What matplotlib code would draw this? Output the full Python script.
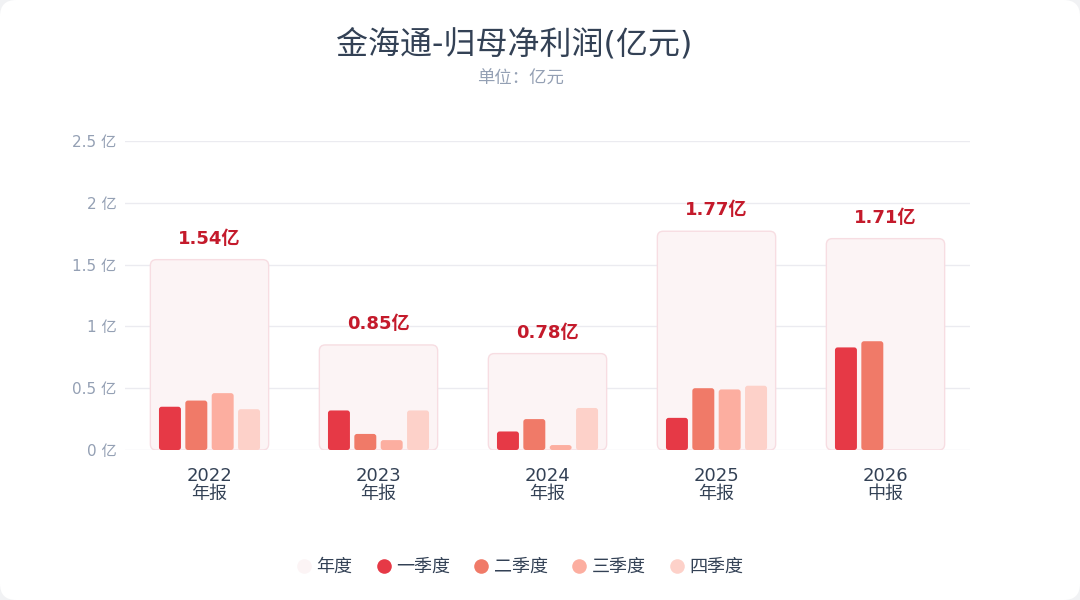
import numpy as np
import matplotlib
matplotlib.use('agg')
import matplotlib.pyplot as plt
from matplotlib.patches import FancyBboxPatch
from matplotlib.lines import Line2D

plt.rcParams['font.family'] = ['DejaVu Sans', 'Noto Sans CJK SC']

# data (亿元)
years = ['2022', '2023', '2024', '2025', '2026']
periods = ['年报', '年报', '年报', '年报', '中报']
annual = [1.54, 0.85, 0.78, 1.77, 1.71]
q1 = [0.35, 0.32, 0.15, 0.26, 0.83]
q2 = [0.40, 0.13, 0.25, 0.50, 0.88]
q3 = [0.46, 0.08, 0.04, 0.49, None]
q4 = [0.33, 0.32, 0.34, 0.52, None]
yticks = [0, 0.5, 1, 1.5, 2, 2.5]

c_year = '#fcf4f5'
c_year_edge = '#f7dde2'
q_colors = ['#e63946', '#f07a68', '#fcaea0', '#fdd1c9']
q_names = ['一季度', '二季度', '三季度', '四季度']

fig = plt.figure(figsize=(10.8, 6), dpi=100)
fig.patch.set_facecolor('#f1f2f4')
card = FancyBboxPatch((0, 0), 1, 1, boxstyle='round,pad=0,rounding_size=0.015',
                      mutation_aspect=1080 / 600, transform=fig.transFigure,
                      facecolor='white', edgecolor='none', zorder=-10)
fig.patches.append(card)

ax = fig.add_axes([125 / 1080, 150 / 600, 845 / 1080, 309 / 600])
ax.set_facecolor('none')
ax.set_xlim(-0.5, 4.5)
ax.set_ylim(0, 2.5)

# data units per pixel ratio, to keep rounded corners round
aspect = (2.5 / 309) / (5 / 845)


def rbar(x, h, w, r, **kw):
    p = FancyBboxPatch((x - w / 2, 0), w, h,
                       boxstyle='round,pad=0,rounding_size=%f' % r,
                       mutation_aspect=aspect, **kw)
    ax.add_patch(p)


x = np.arange(len(years))
for i in x:
    rbar(i, annual[i], 0.70, 0.035, facecolor=c_year, edgecolor=c_year_edge,
         linewidth=1.0, zorder=2)
    ax.annotate('%.2f亿' % annual[i], (i, annual[i]), xytext=(0, 15),
                textcoords='offset points', ha='center', va='center',
                fontsize=13, fontweight='bold', color='#c41a2b', zorder=5)

for k, q in enumerate([q1, q2, q3, q4]):
    for i in x:
        if q[i] is None:
            continue
        rbar(i + (k - 1.5) * 0.156, q[i], 0.13, 0.016,
             facecolor=q_colors[k], edgecolor='none', zorder=3)

ax.set_yticks(yticks)
ax.set_yticklabels(['%g 亿' % v for v in yticks])
ax.set_xticks(x)
ax.set_xticklabels(['%s\n%s' % (y, p) for y, p in zip(years, periods)],
                   linespacing=1.0)
ax.tick_params(axis='y', length=0, pad=6, labelsize=11, labelcolor='#94a0b4')
ax.tick_params(axis='x', length=0, pad=12.5, labelsize=13, labelcolor='#334155')
ax.grid(axis='y', color='#ebebf0', linewidth=1)
ax.set_axisbelow(True)
for s in ax.spines.values():
    s.set_visible(False)

fig.text(514 / 1080, 1 - 45 / 600, '金海通-归母净利润(亿元)', ha='center', va='center',
         fontsize=23, color='#334155')
fig.text(520 / 1080, 1 - 79 / 600, '单位：亿元', ha='center', va='center',
         fontsize=12.5, color='#94a0b4')

handles = [Line2D([], [], marker='o', linestyle='none', markersize=10.5,
                  markerfacecolor=c_year, markeredgecolor='none', label='年度')]
for c, n in zip(q_colors, q_names):
    handles.append(Line2D([], [], marker='o', linestyle='none', markersize=10.5,
                          markerfacecolor=c, markeredgecolor='none', label=n))
fig.legend(handles=handles, loc='center', bbox_to_anchor=(520 / 1080, 1 - 567 / 600),
           ncol=5, frameon=False, fontsize=13, handlelength=0.8, handletextpad=0.3,
           columnspacing=1.32, labelcolor='#334155')

fig.savefig('out.png', dpi=100, facecolor=fig.get_facecolor())
